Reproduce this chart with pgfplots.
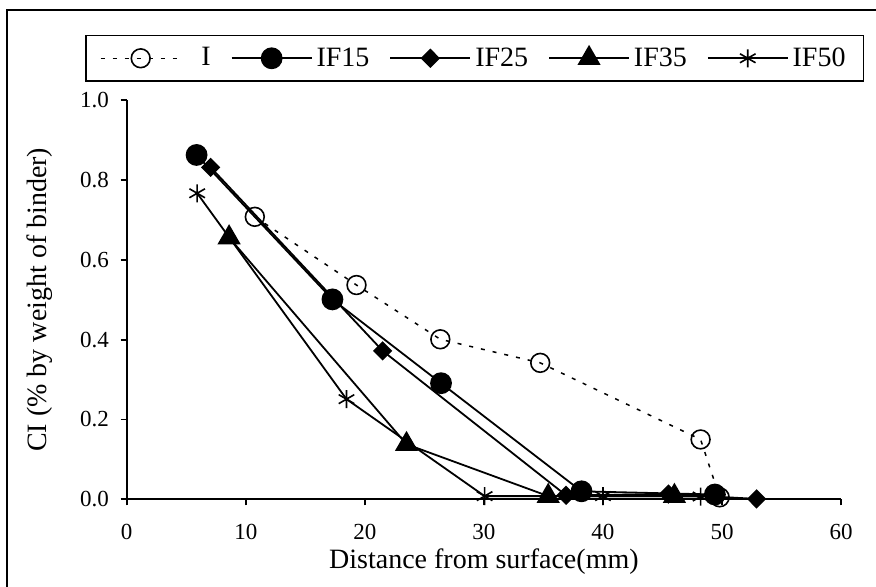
\documentclass[border=0pt]{standalone}
\usepackage{pgfplots}
\pgfplotsset{compat=1.18}
\usepackage{fontspec}
\setmainfont{Liberation Serif}
\begin{document}
\begin{tikzpicture}
\begin{axis}[
  at={(0pt,0pt)}, anchor=origin,
  scale only axis,
  width=357.2pt, height=199.5pt,
  xmin=0, xmax=60, ymin=0, ymax=1.0,
  axis x line=bottom, axis y line=left,
  axis line style={-, line width=0.9pt},
  xtick={0,10,20,30,40,50,60},
  ytick={0,0.2,0.4,0.6,0.8,1.0},
  tick align=outside, major tick length=3pt,
  tick style={line width=0.9pt, black},
  /pgf/number format/assume math mode=true,
  yticklabel style={/pgf/number format/.cd, fixed, fixed zerofill, precision=1, /tikz/.cd, font=\fontsize{11.5}{13}\selectfont, xshift=-2.4pt},
  xticklabel style={font=\fontsize{11.5}{13}\selectfont, yshift=-6.0pt},
  xlabel={Distance from surface(mm)},
  ylabel={CI (\% by weight of binder)},
  xlabel style={font=\fontsize{14}{16}\selectfont, at={(axis description cs:0.5,-0.157)}, anchor=center},
  ylabel style={font=\fontsize{14}{16}\selectfont, at={(axis description cs:-0.1213,0.5)}, anchor=center},
  clip=false,
  legend columns=5,
  legend style={at={(axis description cs:0.4872,1.1053)}, anchor=center, draw=black, line width=0.9pt,
    font=\fontsize{14}{16}\selectfont, inner xsep=7pt, inner ysep=4pt,
    /tikz/every even column/.append style={column sep=8pt}},
  legend image code/.code={\draw[mark repeat=2,mark phase=2,#1] plot coordinates {(0pt,0pt) (20pt,0pt) (40pt,0pt)};},
]
\addplot[black, line width=0.75pt, dash pattern=on 2pt off 4pt, mark=o, mark size=4.7pt, mark options={solid, line width=0.8pt}]
  coordinates {(10.76,0.708) (19.3,0.537) (26.34,0.401) (34.73,0.342) (48.2,0.150) (49.8,0.005)};
\addlegendentry{\hspace{8pt}I\hspace{5pt}}
\addplot[black, line width=0.9pt, mark=*, mark size=5pt, mark options={solid}]
  coordinates {(5.87,0.863) (17.28,0.501) (26.4,0.291) (38.2,0.020) (49.4,0.012)};
\addlegendentry{IF15}
\addplot[black, line width=0.9pt, mark=diamond*, mark size=4.2pt, mark options={solid, xscale=1.33}]
  coordinates {(7.05,0.832) (21.5,0.372) (36.9,0.010) (45.5,0.013) (52.9,0.001)};
\addlegendentry{IF25}
\addplot[black, line width=0.9pt, mark=triangle*, mark size=5.8pt, mark options={solid}]
  coordinates {(8.6,0.656) (23.5,0.138) (35.4,0.008) (46.0,0.008)};
\addlegendentry{IF35}
\addplot[black, line width=0.9pt, mark=asterisk, mark size=4.5pt, mark options={solid, line width=0.8pt}]
  coordinates {(5.92,0.767) (18.46,0.251) (30.06,0.008) (40.0,0.008) (48.2,0.007)};
\addlegendentry{IF50}
\end{axis}
\draw[line width=1.3pt] (-59.85pt,-60pt) -- (-59.85pt,244.65pt) -- (390pt,244.65pt);
\pgfresetboundingbox
\useasboundingbox (-63.35pt,-43.85pt) rectangle (374.65pt,249.65pt);
\end{tikzpicture}
\end{document}
